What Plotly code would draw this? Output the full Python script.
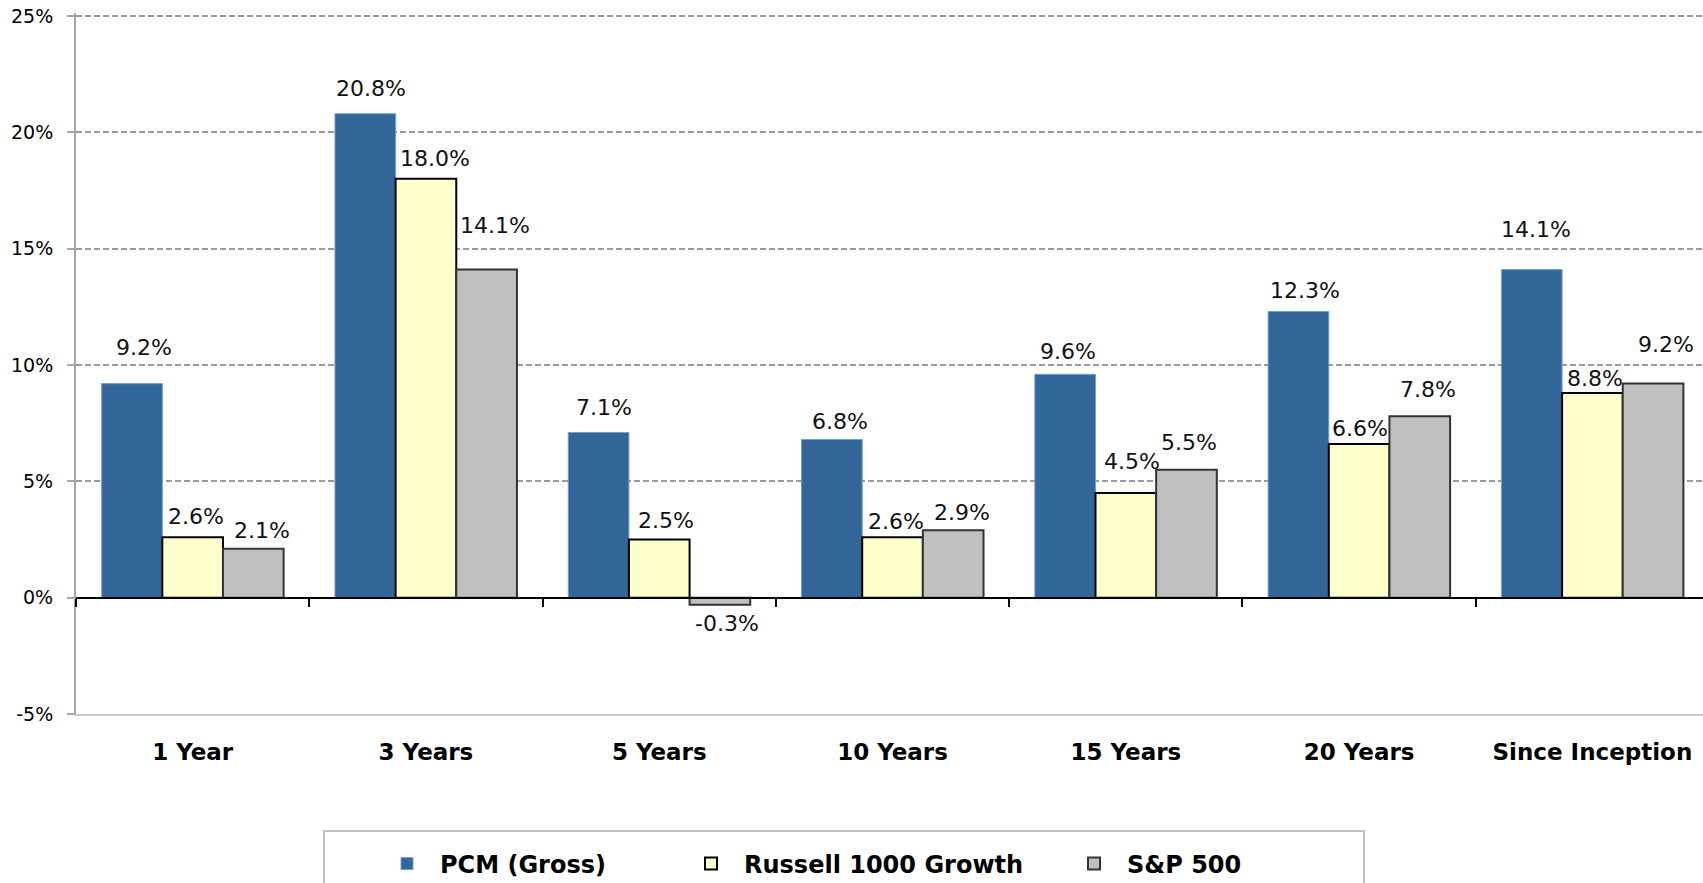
import plotly.graph_objects as go

categories = ["1 Year", "3 Years", "5 Years", "10 Years", "15 Years", "20 Years", "Since Inception"]
pcm_gross = [9.2, 20.8, 7.1, 6.8, 9.6, 12.3, 14.1]
russell_1000_growth = [2.6, 18.0, 2.5, 2.6, 4.5, 6.6, 8.8]
sp_500 = [2.1, 14.1, -0.3, 2.9, 5.5, 7.8, 9.2]
series_names = ["PCM (Gross)", "Russell 1000 Growth", "S&P 500"]
y_ticks = [-5, 0, 5, 10, 15, 20, 25]
y_tick_labels = ["-5%", "0%", "5%", "10%", "15%", "20%", "25%"]

# label nudges (px) relative to each bar end: (dx, dy)
label_nudges = [
    [(12, 36), (6, 25), (5, 25), (8, 18), (3, 23), (7, 21), (4, 40)],
    [(3, 21), (9, 20), (7, 19), (3, 16), (6, 31), (1, 16), (3, 14)],
    [(9, 18), (8, 44), (7, -19), (9, 18), (3, 27), (8, 27), (13, 39)],
]

W, H = 1703, 883
# targets in window pixels
PLOT_LEFT, PLOT_BOTTOM = 76, 714
Y_MAX_TICK_PX = 16          # where the top tick (25%) should sit
PLOT_TOP = 13               # plot area top, slightly above top tick
unit_px = (PLOT_BOTTOM - Y_MAX_TICK_PX) / (y_ticks[-1] - y_ticks[0])
Y_RANGE = [y_ticks[0], y_ticks[-1] + (Y_MAX_TICK_PX - PLOT_TOP) / unit_px]

L, R, T = PLOT_LEFT, 0, PLOT_TOP
B = H - PLOT_BOTTOM
BARGAP = 0.22
X_RANGE = [-0.5, 6.474]

fills = ["#336699", "#FFFFCC", "#C0C0C0"]
edges = ["#6F9FD8", "#000000", "#333333"]
edge_w = [1, 2, 2]
legend_ids = ["legend", "legend2", "legend3"]
legend_text_px = [440, 744, 1127]
ITEMW = 56

all_values = [pcm_gross, russell_1000_growth, sp_500]

fig = go.Figure()
for i, (name, vals) in enumerate(zip(series_names, all_values)):
    fig.add_trace(go.Bar(
        name=name, x=categories, y=vals,
        marker=dict(color=fills[i], line=dict(color=edges[i], width=edge_w[i])),
        legend=legend_ids[i],
    ))

# invisible helper trace so the zero-crossing category axis (x2) is drawn
boundaries = [k - 0.5 for k in range(len(categories))]
fig.add_trace(go.Scatter(
    x=boundaries, y=[0] * len(boundaries), xaxis="x2", yaxis="y",
    mode="markers", marker=dict(opacity=0), showlegend=False, hoverinfo="skip",
))

bar_w = (1 - BARGAP) / 3
annotations = []
for i, vals in enumerate(all_values):
    for j, v in enumerate(vals):
        dx, dy = label_nudges[i][j]
        annotations.append(dict(
            x=j + (i - 1) * bar_w, y=v, xref="x", yref="y",
            text=f"{v:.1f}%", showarrow=False,
            xanchor="center", yanchor="middle",
            xshift=dx, yshift=dy,
            font=dict(family="DejaVu Sans", size=22, color="#111111"),
        ))

plot_w = W - L - R
plot_h = H - T - B

def px_to_paper_x(px):
    return (px - L) / plot_w

def px_to_paper_y(py):
    return (PLOT_BOTTOM - py) / plot_h

layout_legends = {}
for i, lid in enumerate(legend_ids):
    layout_legends[lid] = dict(
        x=px_to_paper_x(legend_text_px[i] - (40 + ITEMW - 30)), xanchor="left",
        y=px_to_paper_y(864), yanchor="middle",
        orientation="h", bgcolor="rgba(0,0,0,0)", borderwidth=0,
        itemwidth=ITEMW,
        font=dict(family="DejaVu Sans", size=24, color="#000000", weight="bold"),
    )

fig.update_layout(
    width=W, height=H,
    margin=dict(l=L, r=R, t=T, b=B, pad=0, autoexpand=False),
    paper_bgcolor="white", plot_bgcolor="white",
    barmode="group", bargap=BARGAP, bargroupgap=0,
    showlegend=True,
    annotations=annotations,
    xaxis=dict(
        type="category", categoryorder="array", categoryarray=categories,
        range=X_RANGE, showgrid=False, zeroline=False,
        showline=True, linecolor="#C8C8C8", linewidth=2,
        ticks="", ticklabelstandoff=16,
        tickfont=dict(family="DejaVu Sans", size=23, color="#000000", weight="bold"),
    ),
    xaxis2=dict(
        overlaying="x", anchor="free", position=(0 - Y_RANGE[0]) / (Y_RANGE[1] - Y_RANGE[0]),
        range=X_RANGE, showgrid=False, zeroline=False,
        showline=True, linecolor="#000000", linewidth=2,
        tickmode="array", tickvals=boundaries,
        ticks="outside", ticklen=8, tickwidth=2, tickcolor="#000000",
        showticklabels=False,
    ),
    yaxis=dict(
        range=Y_RANGE, tickmode="array", tickvals=y_ticks, ticktext=y_tick_labels,
        showgrid=True, gridcolor="#9A9A9A", gridwidth=1.5, griddash="6px,3px",
        zeroline=False, showline=True, linecolor="#A6A6A6", linewidth=2,
        ticks="outside", ticklen=7, tickcolor="#A6A6A6", tickwidth=2,
        ticklabelstandoff=10, ticklabeloverflow="allow",
        tickfont=dict(family="DejaVu Sans", size=19, color="#000000"),
    ),
    shapes=[dict(
        type="rect", xref="paper", yref="paper",
        x0=px_to_paper_x(324), x1=px_to_paper_x(1364),
        y0=px_to_paper_y(831), y1=px_to_paper_y(930),
        line=dict(color="#C0C0C0", width=2), fillcolor="rgba(0,0,0,0)",
        layer="below",
    )],
    **layout_legends,
)

fig.write_html(
    "out.html",
    config={"displayModeBar": False},
    post_script="document.body.style.margin='0';document.body.style.overflow='hidden';",
)
